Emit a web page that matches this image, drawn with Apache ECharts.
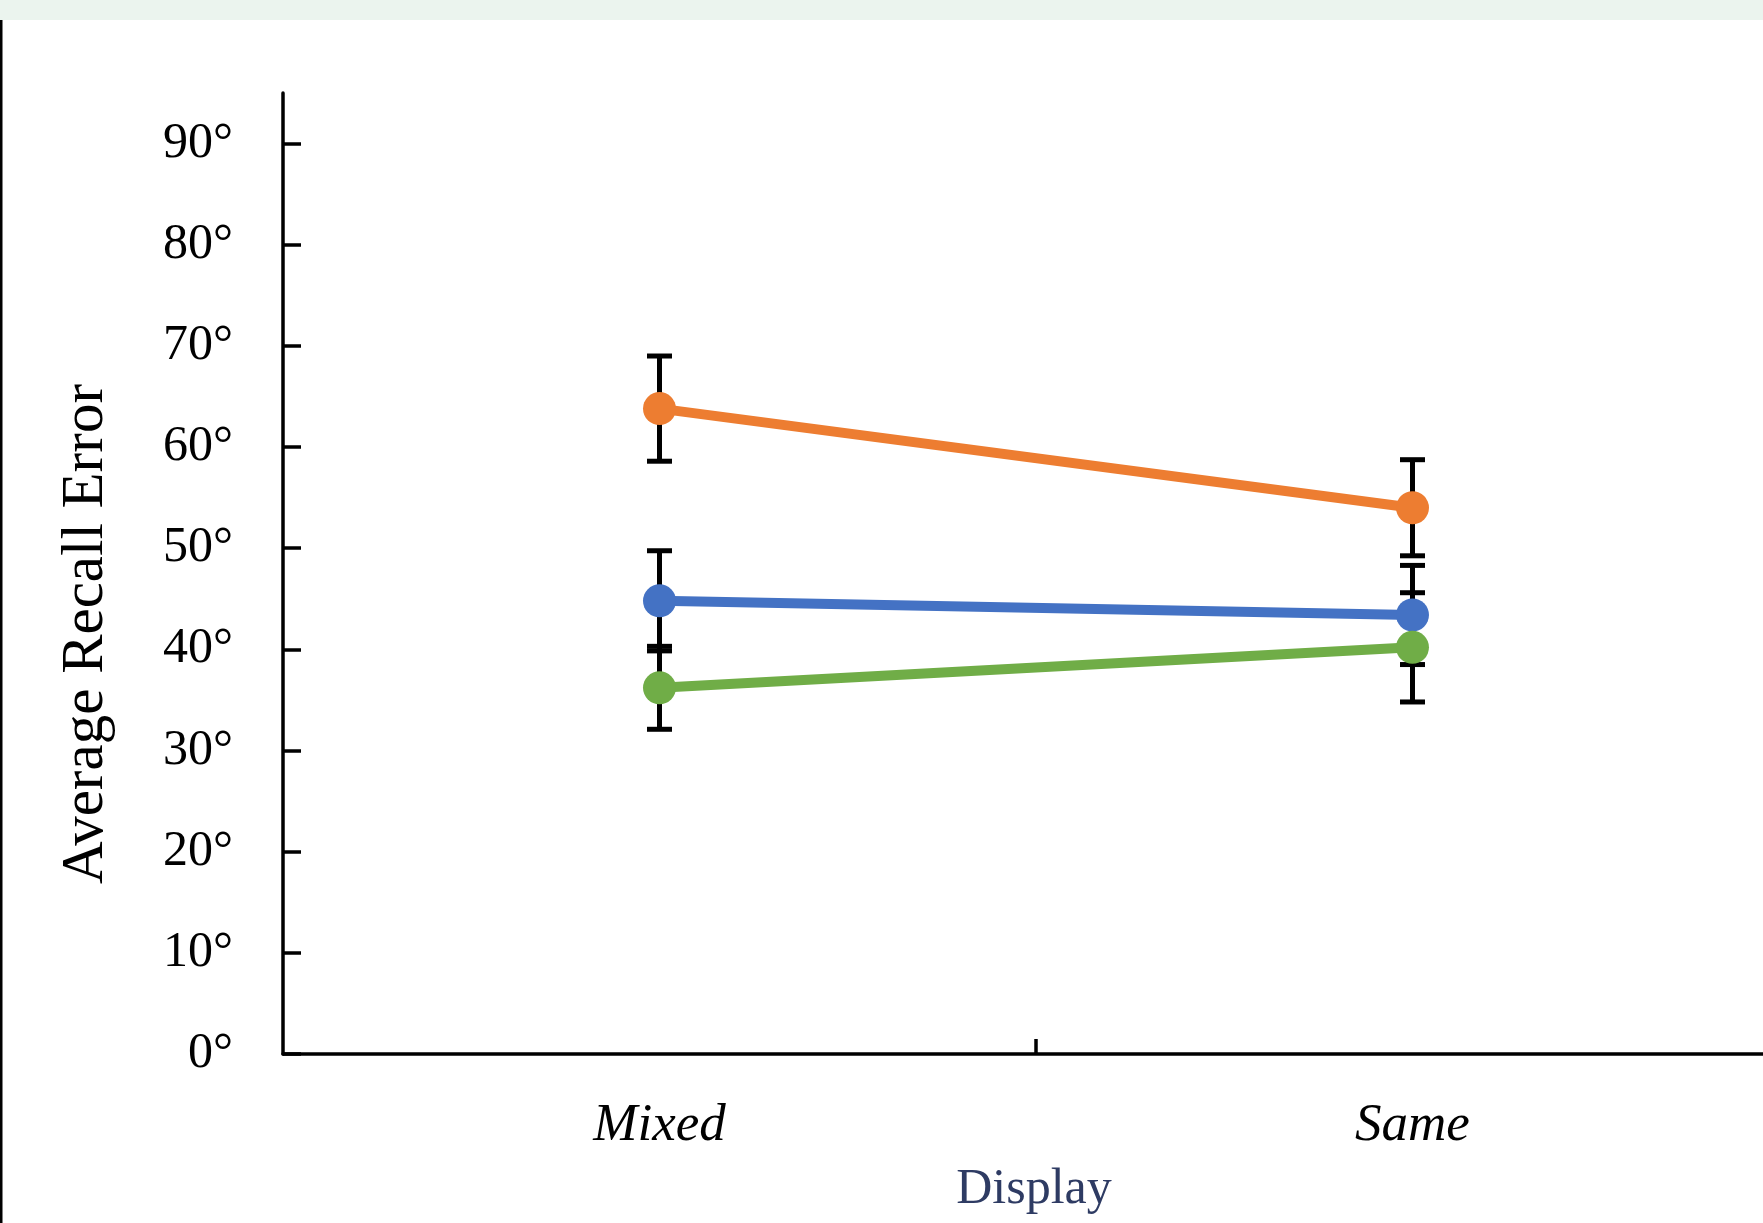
<!DOCTYPE html>
<html>
<head>
<meta charset="utf-8">
<script src="https://cdn.jsdelivr.net/npm/echarts@6/dist/echarts.min.js"></script>
<style>
html,body{margin:0;padding:0;background:#fff;}
#chart{width:1763px;height:1223px;}
</style>
</head>
<body>
<div id="chart"></div>
<script>
var categories = ['Mixed', 'Same'];
var categoryPos = [0, 1];
var yTicks = [0, 10, 20, 30, 40, 50, 60, 70, 80, 90];
var orangeMean = [63.8, 54.0];
var orangeErr = [5.2, 4.75];
var blueMean = [44.8, 43.4];
var blueErr = [4.95, 4.9];
var greenMean = [36.2, 40.2];
var greenErr = [4.1, 5.4];
var colors = ['#ED7D31', '#4472C4', '#70AD47'];

var FONT = '"Liberation Serif", "DejaVu Serif", serif';

function errData(mean, err) {
  return mean.map(function (m, i) { return [categoryPos[i], m - err[i], m + err[i]]; });
}

function errSeries(mean, err) {
  return {
    type: 'custom',
    z: 1,
    silent: true,
    data: errData(mean, err),
    renderItem: function (params, api) {
      var lo = api.coord([api.value(0), api.value(1)]);
      var hi = api.coord([api.value(0), api.value(2)]);
      var half = 12.5;
      var st = { stroke: '#000', lineWidth: 5 };
      return {
        type: 'group',
        children: [
          { type: 'line', shape: { x1: lo[0], y1: lo[1], x2: hi[0], y2: hi[1] }, style: st },
          { type: 'line', shape: { x1: lo[0] - half, y1: lo[1], x2: lo[0] + half, y2: lo[1] }, style: st },
          { type: 'line', shape: { x1: hi[0] - half, y1: hi[1], x2: hi[0] + half, y2: hi[1] }, style: st }
        ]
      };
    }
  };
}

function lineSeries(mean, color) {
  return {
    type: 'line',
    z: 3,
    data: mean.map(function (m, i) { return [categoryPos[i], m]; }),
    symbol: 'circle',
    symbolSize: 33,
    itemStyle: { color: color },
    lineStyle: { color: color, width: 10 }
  };
}

var chart = echarts.init(document.getElementById('chart'), null, { renderer: 'canvas' });
chart.setOption({
  animation: false,
  backgroundColor: '#ffffff',
  grid: { left: 283, top: 93, bottom: 169, right: 0, containLabel: false },
  xAxis: {
    type: 'value',
    min: -0.5,
    max: 1.4655,
    splitLine: { show: false },
    axisLine: { show: true, onZero: false, lineStyle: { color: '#000', width: 3.5 } },
    axisTick: { show: true, inside: true, length: 15, customValues: [0.5], lineStyle: { color: '#000', width: 3.5 } },
    axisLabel: {
      margin: 46,
      customValues: categoryPos,
      fontFamily: FONT, fontStyle: 'italic', fontSize: 53, color: '#000',
      formatter: function (v) { return categories[Math.round(v)] || ''; }
    }
  },
  yAxis: {
    type: 'value',
    min: 0,
    max: 95,
    interval: 10,
    splitLine: { show: false },
    axisLine: { show: true, onZero: false, lineStyle: { color: '#000', width: 3.5 } },
    axisTick: { show: true, inside: true, length: 18, customValues: yTicks, lineStyle: { color: '#000', width: 3.5 } },
    axisLabel: {
      margin: 50,
      customValues: yTicks,
      fontFamily: FONT,
      fontSize: 50,
      color: '#000',
      formatter: function (v) { return v + '°'; }
    }
  },
  graphic: [
    { type: 'rect', left: 0, top: 0, shape: { width: 1763, height: 20 }, style: { fill: '#EBF4EE' } },
    { type: 'rect', left: 0, top: 20, shape: { width: 2.5, height: 1203 }, style: { fill: '#000' } },
    {
      type: 'text',
      x: 86, y: 634,
      rotation: Math.PI / 2,
      style: {
        text: 'Average Recall Error',
        font: '59px ' + FONT,
        fill: '#000',
        textAlign: 'center',
        textVerticalAlign: 'middle'
      }
    },
    {
      type: 'text',
      x: 1034, y: 1165,
      style: {
        text: 'Display',
        font: '50px ' + FONT,
        fill: '#2E3B63',
        textAlign: 'center',
        textVerticalAlign: 'top'
      }
    }
  ],
  series: [
    errSeries(orangeMean, orangeErr),
    errSeries(blueMean, blueErr),
    errSeries(greenMean, greenErr),
    lineSeries(orangeMean, colors[0]),
    lineSeries(blueMean, colors[1]),
    lineSeries(greenMean, colors[2])
  ]
});
</script>
</body>
</html>
